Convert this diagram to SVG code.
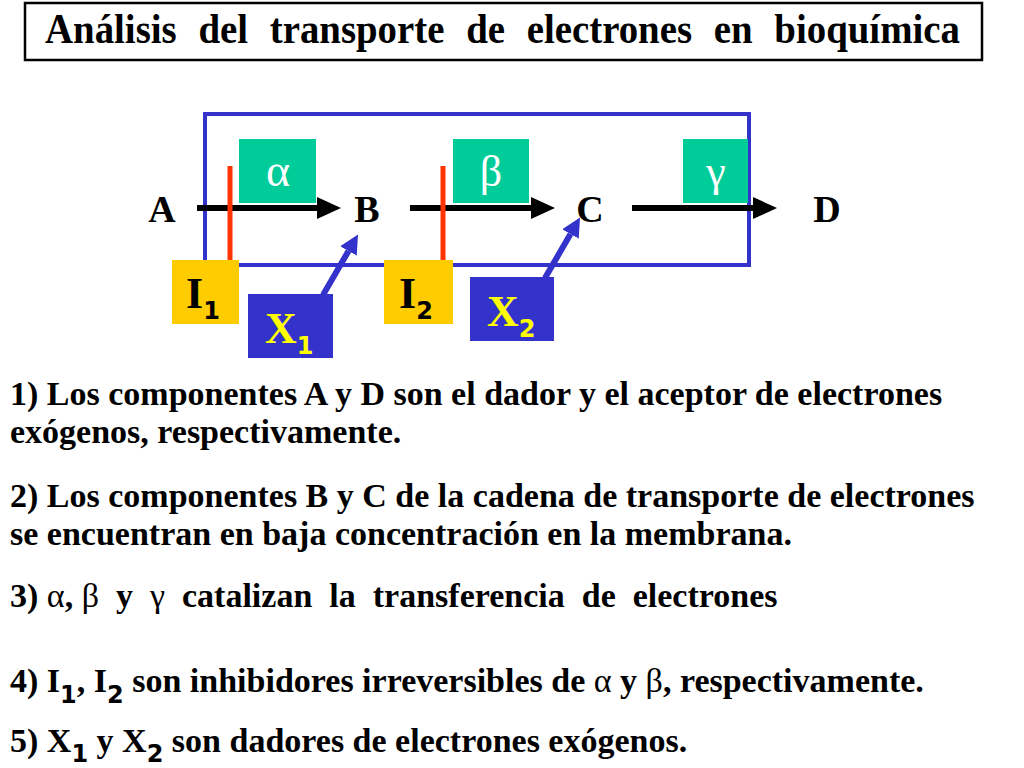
<svg xmlns="http://www.w3.org/2000/svg" width="1024" height="768" viewBox="0 0 1024 768">
<style>
.serif{font-family:"Liberation Serif","Times New Roman",serif;font-weight:bold;fill:#000}
.greek{font-family:"Liberation Serif","DejaVu Serif",serif;font-weight:normal}
.sub{font-family:"DejaVu Sans","Liberation Sans",sans-serif;font-weight:bold}
.body{font-size:34px}
.lbl{font-size:38px;text-anchor:middle}
.green{fill:#00cc99}
.inh{fill:#ffcc00}
.don{fill:#3333cc}
.redbar{stroke:#ff3300;stroke-width:5}
.flow{stroke:#000;stroke-width:6;fill:none}
.blu{stroke:#3333cc;stroke-width:6;fill:none}
</style>
<defs>
<marker id="ahBlack" markerUnits="userSpaceOnUse" markerWidth="24" markerHeight="22" refX="0" refY="11" orient="auto">
<path d="M0,0 L24,11 L0,22 z" fill="#000"/>
</marker>
<marker id="ahBlue" markerUnits="userSpaceOnUse" markerWidth="19" markerHeight="19" refX="0" refY="9.5" orient="auto">
<path d="M0,0 L19,9.5 L0,19 z" fill="#3333cc"/>
</marker>
</defs>
<rect width="1024" height="768" fill="#fff"/>

<g id="title">
<rect x="25" y="3" width="957" height="57" fill="#fff" stroke="#000" stroke-width="2.5"/>
<text class="serif" transform="translate(45,43) scale(0.925,1)" x="0" y="0" font-size="42" word-spacing="13">Análisis del transporte de electrones en bioquímica</text>
</g>

<g id="membrane">
<rect x="205" y="114" width="544" height="151" fill="none" stroke="#3333cc" stroke-width="4"/>
</g>

<g id="enzyme-alpha"><rect class="green" x="239" y="139" width="77" height="64"/><text class="greek" x="278" y="186" font-size="46" fill="#fff" text-anchor="middle">α</text></g>
<g id="enzyme-beta"><rect class="green" x="453" y="139" width="76" height="64"/><text class="greek" x="491" y="186" font-size="44" fill="#fff" text-anchor="middle">β</text></g>
<g id="enzyme-gamma"><rect class="green" x="683" y="139" width="65" height="64"/><text class="greek" x="716" y="186" font-size="44" fill="#fff" text-anchor="middle">γ</text></g>

<g id="connectors">
<line class="flow" x1="197" y1="208" x2="317" y2="208" marker-end="url(#ahBlack)"/>
<line class="flow" x1="410" y1="208" x2="531" y2="208" marker-end="url(#ahBlack)"/>
<line class="flow" x1="632" y1="208" x2="753" y2="208" marker-end="url(#ahBlack)"/>
<line class="blu" x1="323" y1="295" x2="348.5" y2="251" marker-end="url(#ahBlue)"/>
<line class="blu" x1="545" y1="278" x2="570.5" y2="234" marker-end="url(#ahBlue)"/>
<line class="redbar" x1="230" y1="166" x2="230" y2="261"/>
<line class="redbar" x1="443" y1="166" x2="443" y2="261"/>
</g>

<g id="node-A"><text class="serif lbl" x="162" y="222">A</text></g>
<g id="node-B"><text class="serif lbl" x="367" y="222">B</text></g>
<g id="node-C"><text class="serif lbl" x="590" y="222">C</text></g>
<g id="node-D"><text class="serif lbl" x="827" y="222">D</text></g>

<g id="inhibitor-I1"><rect class="inh" x="172" y="260" width="67" height="64"/><text class="serif" x="186" y="308" font-size="44">I<tspan class="sub" font-size="24" dy="11">1</tspan></text></g>
<g id="inhibitor-I2"><rect class="inh" x="384" y="260" width="69" height="64"/><text class="serif" x="399" y="308" font-size="44">I<tspan class="sub" font-size="24" dy="11">2</tspan></text></g>
<g id="donor-X1"><rect class="don" x="248" y="294" width="85" height="64"/><text class="serif" x="265" y="343" font-size="44" style="fill:#ffff00">X<tspan class="sub" font-size="24" dy="11">1</tspan></text></g>
<g id="donor-X2"><rect class="don" x="470" y="277" width="84" height="64"/><text class="serif" x="487" y="326" font-size="44" style="fill:#ffff00">X<tspan class="sub" font-size="24" dy="11">2</tspan></text></g>

<g id="statements">
<text class="serif body" x="10" y="405">1) Los componentes A y D son el dador y el aceptor de electrones</text>
<text class="serif body" x="10" y="443">exógenos, respectivamente.</text>
<text class="serif body" x="10" y="507">2) Los componentes B y C de la cadena de transporte de electrones</text>
<text class="serif body" x="10" y="545">se encuentran en baja concentración en la membrana.</text>
<text class="serif body" x="10" y="607" xml:space="preserve">3) <tspan class="greek">α</tspan>, <tspan class="greek">β</tspan>  y  <tspan class="greek">γ</tspan>  catalizan  la  transferencia  de  electrones</text>
<text class="serif body" x="10" y="692">4) I<tspan class="sub" font-size="24" dy="11">1</tspan><tspan dy="-11">, I</tspan><tspan class="sub" font-size="24" dy="11">2</tspan><tspan dy="-11"> son inhibidores irreversibles de </tspan><tspan class="greek">α</tspan> y <tspan class="greek">β</tspan>, respectivamente.</text>
<text class="serif body" x="10" y="752">5) X<tspan class="sub" font-size="24" dy="10">1</tspan><tspan dy="-10"> y X</tspan><tspan class="sub" font-size="24" dy="10">2</tspan><tspan dy="-10"> son dadores de electrones exógenos.</tspan></text>
</g>
</svg>
